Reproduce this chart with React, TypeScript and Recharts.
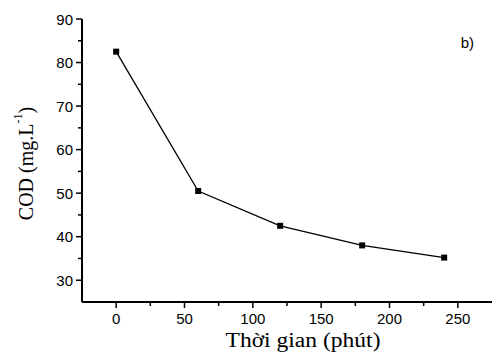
import { LineChart, Line, XAxis, YAxis, ReferenceLine } from 'recharts';

const times = [0, 60, 120, 180, 240];
const cod = [82.5, 50.5, 42.5, 38, 35.2];
const xTicks = [0, 25, 50, 75, 100, 125, 150, 175, 200, 225, 250];
const yTicks = [30, 35, 40, 45, 50, 55, 60, 65, 70, 75, 80, 85, 90];

const data = times.map((t, i) => ({ t, cod: cod[i] }));

const sans = 'Liberation Sans, Arial, sans-serif';
const serif = 'Liberation Serif, Times New Roman, serif';

const XTick = (props: any) => {
  const { x, y, payload } = props;
  const major = payload.value % 50 === 0;
  return (
    <g>
      <line x1={x} x2={x} y1={y} y2={y + (major ? 6 : 4)} stroke="#000" strokeWidth={1.5} />
      {major && (
        <text x={x} y={y + 22} textAnchor="middle" fontFamily={sans} fontSize={15} fill="#000">
          {payload.value}
        </text>
      )}
    </g>
  );
};

const YTick = (props: any) => {
  const { x, y, payload } = props;
  const major = payload.value % 10 === 0;
  return (
    <g>
      <line x1={x} x2={x - (major ? 6 : 4)} y1={y} y2={y} stroke="#000" strokeWidth={1.5} />
      {major && (
        <text x={x - 9} y={y + 5.5} textAnchor="end" fontFamily={sans} fontSize={15} fill="#000">
          {payload.value}
        </text>
      )}
    </g>
  );
};

const TopTick = (props: any) => {
  const { x, y } = props;
  return <line x1={x} x2={x} y1={y} y2={y - 3} stroke="#000" strokeWidth={1} />;
};

const Square = (props: any) => {
  const { cx, cy } = props;
  return <rect x={cx - 3} y={cy - 3} width={6} height={6} fill="#000" />;
};

export default function App() {
  return (
    <div style={{ position: 'absolute', left: 0, top: 0, background: '#fff' }}>
      <LineChart width={496} height={354} data={data} margin={{ top: 19, right: 4, bottom: 0, left: 0 }}>
        <XAxis
          xAxisId="b"
          dataKey="t"
          type="number"
          domain={[-25, 275]}
          ticks={xTicks}
          interval={0}
          tick={<XTick />}
          tickLine={false}
          tickSize={0}
          tickMargin={0}
          axisLine={{ stroke: '#000', strokeWidth: 2 }}
          height={52}
          label={{
            content: (p: any) => {
              const vb = p.viewBox;
              return (
                <text
                  x={303}
                  y={vb.y + vb.height - 7}
                  textAnchor="middle"
                  fontFamily={serif}
                  fontSize={20}
                  textLength={155}
                  lengthAdjust="spacingAndGlyphs"
                  fill="#000"
                >
                  Thời gian (phút)
                </text>
              );
            },
          }}
        />
        <XAxis
          xAxisId="top"
          orientation="top"
          dataKey="t"
          type="number"
          domain={[-25, 275]}
          ticks={xTicks}
          interval={0}
          tick={<TopTick />}
          tickLine={false}
          tickSize={0}
          tickMargin={0}
          axisLine={{ stroke: '#000', strokeWidth: 2 }}
          height={0}
        />
        <YAxis
          yAxisId="l"
          type="number"
          domain={[25, 90]}
          ticks={yTicks}
          interval={0}
          tick={<YTick />}
          tickLine={false}
          tickSize={0}
          tickMargin={0}
          axisLine={{ stroke: '#000', strokeWidth: 2 }}
          width={82}
          label={{
            content: (p: any) => {
              const vb = p.viewBox;
              const cx = 26;
              const cy = vb.y + vb.height / 2 + 3;
              return (
                <text
                  x={cx}
                  y={cy}
                  transform={`rotate(-90 ${cx} ${cy})`}
                  textAnchor="middle"
                  dominantBaseline="central"
                  fontFamily={serif}
                  fontSize={20}
                  fill="#000"
                >
                  COD (mg.L
                  <tspan dy={-8} fontSize={12}>-1</tspan>
                  <tspan dy={8}>)</tspan>
                </text>
              );
            },
          }}
        />
        <YAxis
          yAxisId="r"
          orientation="right"
          type="number"
          domain={[25, 90]}
          tick={false}
          tickLine={false}
          axisLine={{ stroke: '#000', strokeWidth: 2 }}
          width={0}
        />
        <ReferenceLine
          xAxisId="b"
          yAxisId="l"
          y={90}
          stroke="none"
          label={{ value: 'b)', position: 'insideTopRight', offset: 18, fontFamily: sans, fontSize: 15, fill: '#000' }}
        />
        <Line
          xAxisId="b"
          yAxisId="l"
          type="linear"
          dataKey="cod"
          stroke="#000"
          strokeWidth={1.3}
          dot={<Square />}
          activeDot={false}
          isAnimationActive={false}
        />
      </LineChart>
    </div>
  );
}
